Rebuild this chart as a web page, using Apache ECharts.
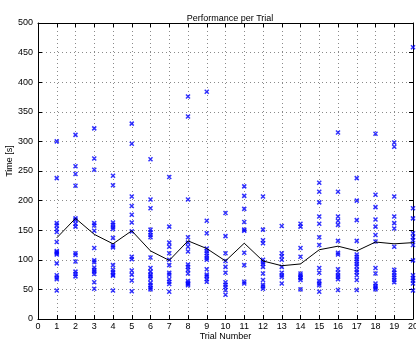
<!DOCTYPE html>
<html>
<head>
<meta charset="utf-8">
<script src="https://cdn.jsdelivr.net/npm/echarts@6/dist/echarts.min.js"></script>
<style>
  html, body { margin: 0; padding: 0; background: #fff; }
  #chart { width: 416px; height: 339px; }
</style>
</head>
<body>
<div id="chart"></div>
<script>
// Trial numbers on the x axis
const trialNumbers = [1, 2, 3, 4, 5, 6, 7, 8, 9, 10, 11, 12, 13, 14, 15, 16, 17, 18, 19, 20];

// Individual completion times [s] for each trial
const timesByTrial = [
  [300, 238, 162, 158, 152, 147, 130, 115, 113, 111, 109, 94, 74, 70, 67, 48],
  [311, 258, 245, 225, 170, 167, 161, 156, 111, 108, 97, 80, 76, 72],
  [322, 271, 252, 162, 158, 149, 120, 99, 96, 87, 83, 80, 76, 62, 51],
  [242, 226, 163, 159, 155, 152, 137, 124, 121, 91, 83, 79, 75, 73, 48],
  [330, 296, 207, 191, 176, 163, 148, 105, 101, 82, 75, 65, 47],
  [270, 202, 187, 151, 146, 142, 138, 104, 86, 80, 75, 72, 68, 61, 57, 53, 50],
  [240, 156, 129, 122, 111, 100, 91, 78, 75, 67, 63, 59, 46],
  [376, 342, 202, 138, 129, 122, 114, 92, 88, 83, 77, 64, 61, 59, 57],
  [384, 166, 145, 119, 115, 111, 107, 103, 100, 84, 75, 72, 67, 63],
  [179, 140, 111, 98, 88, 78, 62, 58, 54, 49, 41],
  [224, 208, 186, 164, 151, 149, 112, 91, 63, 60],
  [207, 151, 133, 128, 100, 96, 93, 88, 77, 66, 58, 55, 51],
  [157, 111, 106, 100, 88, 78, 74, 71, 60],
  [161, 156, 120, 105, 77, 74, 71, 69, 66, 50],
  [230, 215, 197, 173, 161, 138, 125, 86, 78, 64, 60, 57, 46],
  [315, 215, 173, 166, 159, 132, 112, 109, 84, 78, 74, 71, 67, 49],
  [238, 200, 167, 132, 109, 105, 101, 97, 93, 89, 83, 79, 74, 66, 49],
  [313, 210, 189, 168, 156, 142, 131, 86, 77, 60, 56, 53, 50],
  [298, 291, 207, 173, 162, 153, 122, 83, 78, 74, 70, 66, 62],
  [459, 187, 170, 145, 138, 133, 125, 99, 74, 69, 65, 60, 48]
];

// Average time per trial (black line)
const meanTime = [137, 170, 143, 127, 149, 115, 99, 132, 119, 98, 128, 98, 90, 93, 117, 123, 115, 130, 127, 129];

// Axis ranges and tick steps
const xRange = [0, 20];
const xStep = 1;
const yRange = [0, 500];
const yStep = 50;

const scatterPoints = [];
trialNumbers.forEach((t, i) => {
  timesByTrial[i].forEach(v => scatterPoints.push([t, v]));
});
const linePoints = trialNumbers.map((t, i) => [t, meanTime[i]]);

const font = 'Liberation Sans, Arial, Helvetica, sans-serif';
const axisBlack = { lineStyle: { color: '#000', width: 1 } };
const gridDots = { show: true, lineStyle: { color: '#8a8a8a', type: [1, 3], width: 1 } };
const inTicks = { show: true, inside: true, length: 4, lineStyle: { color: '#000', width: 1 } };

const chart = echarts.init(document.getElementById('chart'), null, { renderer: 'canvas' });
chart.setOption({
  backgroundColor: '#fff',
  animation: false,
  title: {
    text: 'Performance per Trial',
    left: 225, top: 9, textAlign: 'center',
    textStyle: { fontFamily: font, fontSize: 9, fontWeight: 'normal', color: '#000' }
  },
  grid: { left: 38, right: 3, top: 23, bottom: 20, containLabel: false, outerBoundsMode: 'none' },
  xAxis: [
    {
      type: 'value', min: xRange[0], max: xRange[1], interval: xStep,
      name: 'Trial Number', nameLocation: 'middle', nameGap: 13, nameMoveOverlap: false,
      nameTextStyle: { fontFamily: font, fontSize: 9, color: '#000' },
      axisLine: { show: true, onZero: false, ...axisBlack },
      axisTick: inTicks,
      axisLabel: { fontFamily: font, fontSize: 9, color: '#000', margin: 3 },
      splitLine: gridDots
    },
    {
      type: 'value', position: 'top', min: xRange[0], max: xRange[1], interval: xStep,
      axisLine: { show: true, onZero: false, ...axisBlack },
      axisTick: inTicks,
      axisLabel: { show: false },
      splitLine: { show: false }
    }
  ],
  yAxis: [
    {
      type: 'value', min: yRange[0], max: yRange[1], interval: yStep,
      name: 'Time [s]', nameLocation: 'middle', nameGap: 24, nameRotate: 90, nameMoveOverlap: false,
      nameTextStyle: { fontFamily: font, fontSize: 9, color: '#000', padding: [0, 0, 0, 20] },
      axisLine: { show: true, onZero: false, ...axisBlack },
      axisTick: inTicks,
      axisLabel: { fontFamily: font, fontSize: 9, color: '#000', margin: 5 },
      splitLine: gridDots
    },
    {
      type: 'value', position: 'right', min: yRange[0], max: yRange[1], interval: yStep,
      axisLine: { show: true, onZero: false, ...axisBlack },
      axisTick: inTicks,
      axisLabel: { show: false },
      splitLine: { show: false }
    }
  ],
  series: [
    {
      type: 'scatter',
      data: scatterPoints,
      symbol: 'path://M0,0L10,10M10,0L0,10',
      symbolSize: 4,
      itemStyle: { color: 'rgba(0,0,0,0)', borderColor: '#0000ff', borderWidth: 1.5 },
      z: 3
    },
    {
      type: 'line',
      data: linePoints,
      showSymbol: false,
      symbol: 'none',
      lineStyle: { color: '#000', width: 1 },
      z: 4
    }
  ]
});
</script>
</body>
</html>
